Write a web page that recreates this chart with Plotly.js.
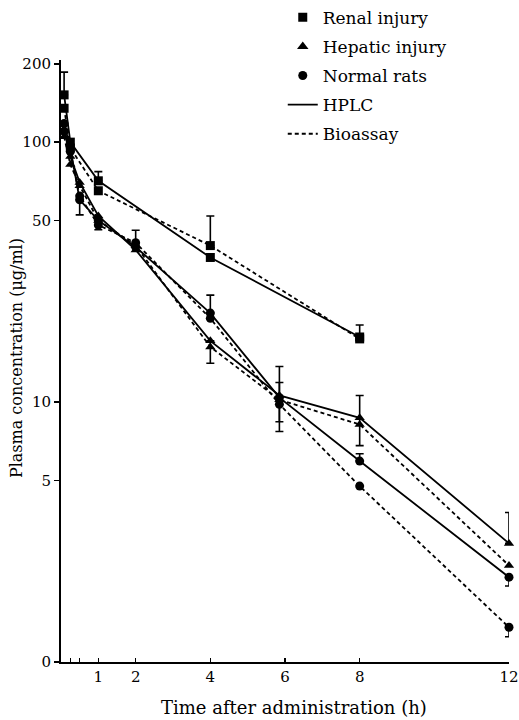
<!DOCTYPE html>
<html>
<head>
<meta charset="utf-8">
<script src="https://cdn.plot.ly/plotly-3.0.1.min.js"></script>
<style>
  html, body { margin: 0; padding: 0; background: #ffffff; }
  #chart { width: 519px; height: 720px; }
</style>
</head>
<body>
<div id="chart"></div>
<script>
// Sampling times (h)
const tRenal = [0.083, 0.25, 1, 4, 8];
const tHepatic = [0.083, 0.25, 0.5, 1, 2, 4, 5.85, 8, 12];
const tNormal = [0.083, 0.25, 0.5, 1, 2, 4, 5.85, 8, 12];

// Plasma concentrations (ug/ml)
const renalHPLC = [152, 100, 71, 36, 17.8];
const renalBio = [135, 95, 65, 40, 17.5];
const hepaticHPLC = [112, 88, 70, 52, 38.5, 17.2, 10.6, 8.7, 2.86];
const hepaticBio = [105, 82, 68, 50, 40, 16.3, 10.2, 8.2, 2.35];
const normalHPLC = [118, 95, 60, 50, 39.5, 22, 10.4, 5.93, 2.12];
const normalBio = [110, 92, 62, 48, 41, 21, 9.8, 4.75, 1.36];

// Error bars (SD); NaN = no bar drawn
const renalHPLCUp = [34, NaN, 6, NaN, 2];
const renalHPLCDown = [NaN, NaN, NaN, NaN, NaN];
const renalBioUp = [NaN, NaN, NaN, 12, NaN];
const renalBioDown = [NaN, NaN, NaN, NaN, NaN];
const hepaticHPLCUp = [NaN, NaN, NaN, NaN, NaN, NaN, 3.1, 1.9, 0.9];
const hepaticHPLCDown = [NaN, NaN, NaN, NaN, NaN, 3.1, 2.9, 1.9, NaN];
const normalHPLCUp = [NaN, NaN, NaN, NaN, 6.3, 3.8, 1.5, 0.4, NaN];
const normalHPLCDown = [NaN, NaN, 7.5, 4, NaN, NaN, 2.0, NaN, 0.16];
const normalBioUp = [NaN, NaN, NaN, NaN, NaN, NaN, NaN, NaN, NaN];
const normalBioDown = [NaN, NaN, NaN, NaN, NaN, NaN, NaN, NaN, 0.11];

// Axis ticks
const xTickVals = [0.25, 0.5, 1, 2, 4, 6, 8, 12];
const xTickText = ['', '', '1', '2', '4', '6', '8', '12'];
const yTickVals = [1, 5, 10, 50, 100, 200];
const yTickText = ['0', '5', '10', '50', '100', '200'];

const FONT = 'DejaVu Serif, serif';
const DASH = '4px,3px';

function series(x, y, symbol, dash, up, down) {
  return {
    type: 'scatter', mode: 'lines+markers', x: x, y: y,
    showlegend: false, cliponaxis: false, hoverinfo: 'skip',
    line: { color: '#000', width: 1.8, dash: dash },
    marker: { symbol: symbol, size: 9, color: '#000' },
    error_y: {
      type: 'data', symmetric: false, array: up, arrayminus: down,
      color: '#000', thickness: 1.6, width: 4
    }
  };
}

function legendItem(name, group, opts) {
  return Object.assign({
    type: 'scatter', x: [null], y: [null], name: name,
    legendgroup: group, showlegend: true, hoverinfo: 'skip'
  }, opts);
}

const traces = [
  series(tRenal, renalHPLC, 'square', 'solid', renalHPLCUp, renalHPLCDown),
  series(tRenal, renalBio, 'square', DASH, renalBioUp, renalBioDown),
  series(tHepatic, hepaticHPLC, 'triangle-up', 'solid', hepaticHPLCUp, hepaticHPLCDown),
  series(tHepatic, hepaticBio, 'triangle-up', DASH, tHepatic.map(() => NaN), tHepatic.map(() => NaN)),
  series(tNormal, normalHPLC, 'circle', 'solid', normalHPLCUp, normalHPLCDown),
  series(tNormal, normalBio, 'circle', DASH, normalBioUp, normalBioDown),

  legendItem('Renal injury', 'a', { mode: 'markers', marker: { symbol: 'square', size: 9, color: '#000' } }),
  legendItem('Hepatic injury', 'b', { mode: 'markers', marker: { symbol: 'triangle-up', size: 10, color: '#000' } }),
  legendItem('Normal rats', 'c', { mode: 'markers', marker: { symbol: 'circle', size: 9, color: '#000' } }),
  legendItem('HPLC', 'd', { mode: 'lines', line: { color: '#000', width: 1.8 } }),
  legendItem('Bioassay', 'e', { mode: 'lines', line: { color: '#000', width: 1.8, dash: DASH } })
];

const layout = {
  width: 519, height: 720,
  margin: { l: 61, r: 10, t: 60, b: 58, autoexpand: false },
  paper_bgcolor: '#fff', plot_bgcolor: '#fff',
  font: { family: FONT, size: 15, color: '#000' },
  showlegend: true,
  legend: {
    x: 0.495, y: 1.1, xanchor: 'left', yanchor: 'top',
    font: { family: FONT, size: 17, color: '#000' },
    tracegroupgap: 4, itemwidth: 30, bgcolor: 'rgba(0,0,0,0)'
  },
  xaxis: {
    range: [0, 12], showgrid: false, zeroline: false,
    showline: true, linecolor: '#000', linewidth: 2,
    ticks: 'inside', ticklen: 4, tickwidth: 1.5, tickcolor: '#000',
    tickmode: 'array', tickvals: xTickVals, ticktext: xTickText,
    ticklabeloverflow: 'allow',
    tickfont: { family: FONT, size: 15, color: '#000' }
  },
  yaxis: {
    type: 'log', range: [0, 2.316], showgrid: false, zeroline: false,
    showline: true, linecolor: '#000', linewidth: 2,
    ticks: 'outside', ticklen: 5, tickwidth: 1.5, tickcolor: '#000',
    tickmode: 'array', tickvals: yTickVals, ticktext: yTickText,
    tickfont: { family: FONT, size: 15, color: '#000' }
  },
  annotations: [
    {
      text: 'Time after administration (h)', xref: 'paper', yref: 'paper',
      x: 0.52, y: -0.075, xanchor: 'center', yanchor: 'middle', showarrow: false,
      font: { family: FONT, size: 18, color: '#000' }
    },
    {
      text: 'Plasma concentration (μg/ml)', xref: 'paper', yref: 'paper',
      x: -0.098, y: 0.505, xanchor: 'center', yanchor: 'middle', showarrow: false,
      textangle: -90, font: { family: FONT, size: 16, color: '#000' }
    }
  ]
};

Plotly.newPlot('chart', traces, layout, { displayModeBar: false, staticPlot: true });
</script>
</body>
</html>
